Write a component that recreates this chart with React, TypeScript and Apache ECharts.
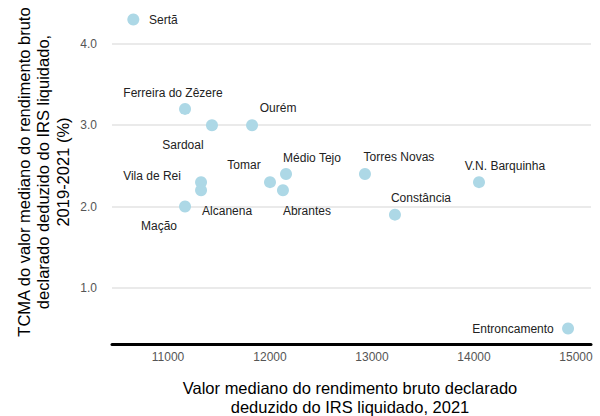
import React, { useEffect, useRef } from "react";
import * as echarts from "echarts";

const names = [
  "Sertã", "Ferreira do Zêzere", "Sardoal", "Ourém", "Vila de Rei", "Alcanena",
  "Tomar", "Médio Tejo", "Abrantes", "Mação", "Torres Novas", "Constância",
  "V.N. Barquinha", "Entroncamento",
];
const incomeValues = [
  10660, 11167, 11431, 11824, 11324, 11324,
  12000, 12157, 12127, 11167, 12931, 13225,
  14049, 14922,
];
const growthValues = [
  4.3, 3.2, 3.0, 3.0, 2.3, 2.2,
  2.3, 2.4, 2.2, 2.0, 2.4, 1.9,
  2.3, 0.5,
];

// label placement (pixels, relative to the point centre)
const labelOffsets: [number, number][] = [
  [30, 1], [-12, -16], [-29, 20], [26, -17], [-49, -6], [26, 21],
  [-26, -17], [26, -16], [24, 21], [-26, 19], [34, -17], [26, -17],
  [26, -16], [-55, 0],
];

const FONT = 'Arial, "Liberation Sans", sans-serif';

export default function App() {
  const ref = useRef<HTMLDivElement>(null);
  useEffect(() => {
    if (!ref.current) return;
    document.body.style.margin = "0";
    const chart = echarts.init(ref.current, undefined, { renderer: "svg" });
    const data = names.map((n, i) => ({
      name: n,
      value: [incomeValues[i], growthValues[i]],
      label: {
        show: true,
        position: "inside",
        offset: labelOffsets[i],
        formatter: n,
        color: "#222",
        fontSize: 12,
        fontFamily: FONT,
      },
    }));
    chart.setOption({
      animation: false,
      textStyle: { fontFamily: FONT },
      grid: { left: 112, right: 9, top: 4, bottom: 72, containLabel: false },
      xAxis: {
        type: "value",
        min: 10451,
        max: 15147,
        axisLine: { show: true, lineStyle: { color: "#000", width: 3 } },
        axisTick: { show: false },
        splitLine: { show: false },
        axisLabel: {
          showMinLabel: false,
          showMaxLabel: false,
          color: "#555",
          fontSize: 12,
          margin: 7,
          fontFamily: FONT,
          formatter: (v: number) => String(v),
        },
      },
      yAxis: {
        type: "value",
        min: 0.31,
        max: 4.49,
        axisLine: { show: false },
        axisTick: { show: false },
        splitLine: {
          show: true,
          showMinLine: false,
          showMaxLine: false,
          lineStyle: { color: "#e3e3e3", width: 1.5 },
        },
        axisLabel: {
          showMinLabel: false,
          showMaxLabel: false,
          color: "#555",
          fontSize: 12,
          margin: 15,
          fontFamily: FONT,
          formatter: (v: number) => v.toFixed(1),
        },
      },
      graphic: [
        {
          type: "text",
          x: 43,
          y: 172,
          rotation: Math.PI / 2,
          style: {
            text: "TCMA do valor mediano do rendimento bruto\ndeclarado deduzido do IRS liquidado,\n2019-2021 (%)",
            fontSize: 16.5,
            lineHeight: 19.5,
            fontFamily: FONT,
            fill: "#000",
            align: "center",
            verticalAlign: "middle",
          },
        },
        {
          type: "text",
          x: 350,
          y: 397,
          style: {
            text: "Valor mediano do rendimento bruto declarado\ndeduzido do IRS liquidado, 2021",
            fontSize: 16.5,
            lineHeight: 19,
            fontFamily: FONT,
            fill: "#000",
            align: "center",
            verticalAlign: "middle",
          },
        },
      ],
      series: [
        {
          type: "scatter",
          symbolSize: 12,
          itemStyle: { color: "#ADD8E6", opacity: 1 },
          data,
        },
      ],
    });
    return () => chart.dispose();
  }, []);
  return <div ref={ref} style={{ width: 600, height: 416 }} />;
}
